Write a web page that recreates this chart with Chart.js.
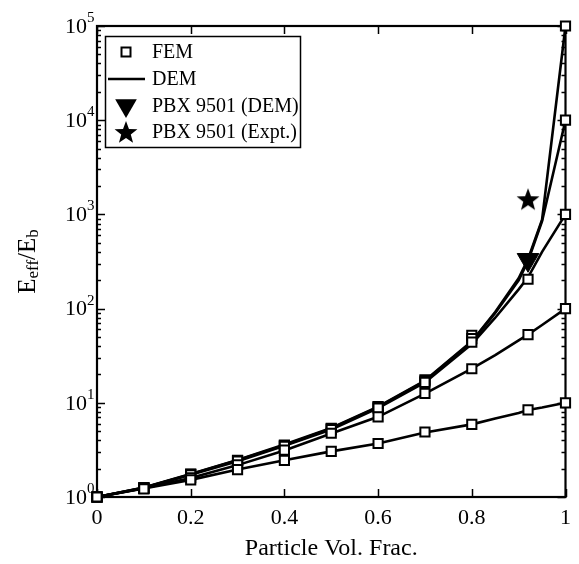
<!DOCTYPE html>
<html><head><meta charset="utf-8">
<script src="https://cdn.jsdelivr.net/npm/chart.js@4.4.0/dist/chart.umd.min.js"></script>
<style>html,body{margin:0;padding:0;background:#fff;}canvas{display:block;}</style>
</head><body>
<canvas id="c" width="579" height="564"></canvas>
<script>
// ---- data ----
const xTickValues = [0, 0.2, 0.4, 0.6, 0.8, 1];
const yTickExponents = [0, 1, 2, 3, 4, 5];

// DEM curves (lines)
const demX     = [0, 0.1, 0.2, 0.3, 0.4, 0.5, 0.6, 0.7, 0.8, 0.85, 0.9, 0.92, 0.95, 1];
const demR10   = [1, 1.23, 1.52, 1.96, 2.45, 3.05, 3.7, 4.85, 5.9, 6.8, 7.8, 8.4, 8.9, 10];
const demR100  = [1, 1.24, 1.59, 2.18, 3.12, 4.72, 7.1, 12.5, 23, 32, 46, 53, 67, 100];
const demR1e3  = [1, 1.25, 1.72, 2.4, 3.5, 5.2, 8.8, 16.5, 42, 80, 160, 215, 400, 1000];
const demR1e4  = [1, 1.25, 1.74, 2.45, 3.55, 5.35, 9.0, 17, 44, 90, 200, 320, 850, 10000];
const demR1e5  = [1, 1.26, 1.75, 2.47, 3.6, 5.4, 9.1, 17.2, 45, 92, 210, 335, 880, 100000];

// FEM results (square markers)
const femX     = [0, 0.1, 0.2, 0.3, 0.4, 0.5, 0.6, 0.7, 0.8, 0.92, 1];
const femR10   = [1, 1.22, 1.52, 1.95, 2.45, 3.05, 3.7, 4.9, 5.9, 8.4, 10];
const femR100  = [1, 1.24, 1.6, 2.2, 3.15, 4.75, 7.1, 12.6, 23, 53, 100];
const femR1e3  = [1, 1.24, 1.72, 2.4, 3.45, 5.2, 8.8, 16.5, 44, 205, 1000];
const femR1e4  = [1, 1.25, 1.74, 2.42, 3.5, 5.3, 9.0, 17, 48, null, 10000];
const femR1e5  = [1, 1.25, 1.75, 2.45, 3.56, 5.36, 9.1, 17.5, 52, null, 100000];

// PBX 9501
const pbxX = [0.92];
const pbxDEM = [330];
const pbxExpt = [1450];

const legendLabels = ['FEM', 'DEM', 'PBX 9501 (DEM)', 'PBX 9501 (Expt.)'];
const xTitle = 'Particle Vol. Frac.';

// ---- helpers ----
const SERIF = '"Liberation Serif", "Times New Roman", serif';
function pts(xs, ys) { const o = []; xs.forEach((x, i) => { if (ys[i] != null) o.push({x: x, y: ys[i]}); }); return o; }
function starPath(g, cx, cy, R) {
  g.beginPath();
  for (let i = 0; i < 10; i++) {
    const r = i % 2 ? R * 0.42 : R;
    const a = -Math.PI / 2 + i * Math.PI / 5;
    const px = cx + r * Math.cos(a), py = cy + r * Math.sin(a);
    if (i) g.lineTo(px, py); else g.moveTo(px, py);
  }
  g.closePath();
}
function makeStar(R) {
  const s = Math.ceil(R * 2 + 2);
  const c = document.createElement('canvas'); c.width = s; c.height = s;
  const g = c.getContext('2d'); g.fillStyle = '#000';
  starPath(g, s / 2, s / 2 + 1, R); g.fill();
  return c;
}
const starImg = makeStar(12);

function demDs(ys) {
  return { data: pts(demX, ys), showLine: true, borderColor: '#000', borderWidth: 2.6,
    pointRadius: 0, pointHoverRadius: 0, fill: false, tension: 0, clip: false, order: 2 };
}
function femDs(ys) {
  return { data: pts(femX, ys), showLine: false, pointStyle: 'rect', pointRadius: 6.5,
    pointBorderWidth: 2, pointBorderColor: '#000', pointBackgroundColor: '#fff', clip: false, order: 1 };
}

const datasets = [
  demDs(demR10), demDs(demR100), demDs(demR1e3), demDs(demR1e4), demDs(demR1e5),
  femDs(femR10), femDs(femR100), femDs(femR1e3), femDs(femR1e4), femDs(femR1e5),
  { data: pts(pbxX, pbxDEM), pointStyle: 'triangle', rotation: 180, pointRadius: 12.5,
    pointBackgroundColor: '#000', pointBorderColor: '#000', pointBorderWidth: 1, clip: false, order: 0 },
  { data: pts(pbxX, pbxExpt), pointStyle: starImg, pointRadius: 10, clip: false, order: 0 }
];

const framePlugin = {
  id: 'frame',
  beforeDatasetsDraw(chart) {
    const g = chart.ctx, a = chart.chartArea, xs = chart.scales.x, ys = chart.scales.y;
    g.save();
    g.strokeStyle = '#000';
    g.lineWidth = 1.5;
    g.beginPath();
    for (let k = 0; k <= 5; k++) {
      for (let m = 1; m <= 9; m++) {
        if (k === 5 && m > 1) break;
        const y = Math.round(ys.getPixelForValue(m * Math.pow(10, k))) + 0.5;
        const len = m === 1 ? 8 : 4;
        g.moveTo(a.left, y); g.lineTo(a.left + len, y);
        g.moveTo(a.right, y); g.lineTo(a.right - len, y);
      }
    }
    xTickValues.forEach(v => {
      const x = Math.round(xs.getPixelForValue(v)) + 0.5;
      g.moveTo(x, a.bottom); g.lineTo(x, a.bottom - 8);
      g.moveTo(x, a.top); g.lineTo(x, a.top + 8);
    });
    g.stroke();
    g.lineWidth = 2.2;
    g.strokeRect(a.left, a.top, a.right - a.left, a.bottom - a.top);
    g.fillStyle = '#000';
    yTickExponents.forEach(k => {
      const y = ys.getPixelForValue(Math.pow(10, k));
      g.font = '22px ' + SERIF;
      g.textAlign = 'right'; g.textBaseline = 'middle';
      g.fillText('10', a.left - 10, y + 1);
      g.font = '15px ' + SERIF;
      g.textAlign = 'left'; g.textBaseline = 'middle';
      g.fillText(String(k), a.left - 10, y - 8);
    });
    g.font = '24px ' + SERIF;
    g.textAlign = 'center'; g.textBaseline = 'middle';
    g.fillText(xTitle, (a.left + a.right) / 2, 549);
    g.translate(28, (a.top + a.bottom) / 2);
    g.rotate(-Math.PI / 2);
    const big = '25px ' + SERIF, small = '17px ' + SERIF;
    const parts = [['E', big, 0], ['eff', small, 6], ['/E', big, 0], ['b', small, 6]];
    let total = 0;
    parts.forEach(p => { g.font = p[1]; total += g.measureText(p[0]).width; });
    let cx = -total / 2;
    g.textAlign = 'left'; g.textBaseline = 'middle';
    parts.forEach(p => { g.font = p[1]; g.fillText(p[0], cx, p[2]); cx += g.measureText(p[0]).width; });
    g.restore();
  },
  afterDraw(chart) {
    const g = chart.ctx;
    g.save();
    const L = 105, T = 36, R = 300, B = 147;
    g.fillStyle = '#fff';
    g.fillRect(L, T, R - L, B - T);
    g.strokeStyle = '#000'; g.lineWidth = 1.5;
    g.strokeRect(L + 0.5, T + 0.5, R - L, B - T);
    const sx = 126, rows = [52, 79, 105.5, 132];
    g.lineWidth = 2; g.fillStyle = '#fff';
    g.beginPath(); g.rect(sx - 4.5, rows[0] - 4.5, 9, 9); g.fill(); g.stroke();
    g.lineWidth = 2.6; g.beginPath(); g.moveTo(108, rows[1]); g.lineTo(145, rows[1]); g.stroke();
    g.fillStyle = '#000';
    const r = 12.5;
    g.beginPath();
    g.moveTo(sx, rows[2] + r);
    g.lineTo(sx - r * Math.sin(Math.PI / 3), rows[2] - r / 2);
    g.lineTo(sx + r * Math.sin(Math.PI / 3), rows[2] - r / 2);
    g.closePath(); g.fill();
    starPath(g, sx, rows[3] + 1, 12); g.fill();
    g.font = '20px ' + SERIF; g.textAlign = 'left'; g.textBaseline = 'middle';
    legendLabels.forEach((t, i) => g.fillText(t, 152, rows[i] + 1));
    g.restore();
  }
};

new Chart(document.getElementById('c'), {
  type: 'scatter',
  data: { datasets: datasets },
  options: {
    responsive: false,
    animation: false,
    events: [],
    layout: { padding: { left: 0, right: 12, top: 26, bottom: 0 } },
    plugins: { legend: { display: false }, tooltip: { enabled: false } },
    scales: {
      x: {
        type: 'linear', min: 0, max: 1,
        grid: { display: false, drawTicks: false },
        border: { display: false },
        afterBuildTicks: s => { s.ticks = xTickValues.map(v => ({ value: v })); },
        ticks: {
          autoSkip: false, maxRotation: 0, padding: 8, color: '#000',
          font: { family: SERIF, size: 22 },
          callback: v => String(+Number(v).toFixed(1))
        },
        afterFit: s => { s.height = 67; }
      },
      y: {
        type: 'logarithmic', min: 1, max: 100000,
        grid: { display: false, drawTicks: false },
        border: { display: false },
        ticks: { display: false },
        afterFit: s => { s.width = 97; }
      }
    }
  },
  plugins: [framePlugin]
});
</script>
</body></html>
